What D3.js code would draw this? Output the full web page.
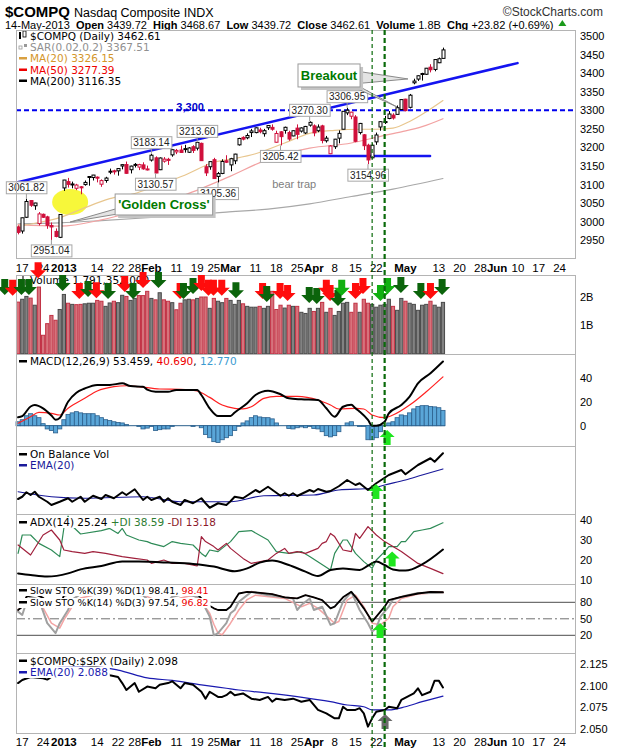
<!DOCTYPE html>
<html>
<head>
<meta charset="utf-8">
<script src="https://cdn.jsdelivr.net/npm/d3@7/dist/d3.min.js"></script>
<style>
html,body{margin:0;padding:0;background:#fff;}
svg{display:block;}
</style>
</head>
<body>
<svg id="chart" width="620" height="750"></svg>
<script>
// ================= DATA (bar index 0 = 14-Dec-2012 ... 102 = 14-May-2013) =================
const openP = [2986,2975,3012,3057,3043,2995,3020,3013,2990,2974,
 2958,3091,3108,3100,3090,3094,3100,3120,3119,3120,
 3101,3111,3134,3137,3137,3150,3154,3140,3152,3147,
 3153,3141,3166,3172,3140,3163,3168,3180,3188,3193,
 3195,3187,3202,3198,3211,3148,3148,3167,3122,3130,
 3164,3153,3164,3207,3227,3226,3240,3240,3247,3237,
 3253,3254,3214,3242,3246,3240,3231,3252,3244,3239,
 3260,3258,3245,3258,3218,3183,3202,3225,3249,3293,
 3284,3282,3240,3234,3206,3172,3215,3255,3269,3278,
 3287,3289,3302,3330,3308,3374,3384,3399,3397,3416,
 3410,3428,3439.72];
const highP = [2990,3011,3061.82,3058,3051,3026,3022,3016,2998,2982,
 3020,3112.65,3118,3108,3102,3096,3111,3123,3126,3122,
 3114,3121,3143,3140,3143.5,3154,3162,3151,3158,3156,
 3160,3151,3183.14,3176,3173,3174,3172,3195,3196,3205,
 3207,3201,3206,3213.60,3213,3155,3162,3172,3134,3168,
 3179,3172,3183,3226,3230,3238,3250,3254,3253,3250,
 3259,3262,3245,3244,3256,3245,3246,3262,3254,3258,
 3270.30,3262,3262,3261,3231,3206,3223,3246,3298,3306.95,
 3296,3287,3266,3236,3210,3211,3240,3271,3285,3298,
 3292,3313,3329,3331,3344,3385,3394,3401,3414,3424,
 3437,3442,3468.67];
const lowP = [2966,2968,3010,3040,3032,2990,3010,2981,2951.04,2958,
 2956,3083,3092,3090,3085,3074,3097,3097,3111,3106,
 3094,3105,3128,3127,3124,3141,3129,3130,3146,3139,
 3140,3138,3162,3130.57,3139,3159,3153,3175,3182,3185,
 3186,3185,3185,3192,3164,3123,3140,3116,3105.36,3128,
 3158,3136,3155,3205,3219,3222,3228,3238,3238,3229,
 3247,3245,3213,3205.42,3237,3218,3230,3222,3240,3236,
 3256,3230,3241,3211,3213,3182,3196,3211,3249,3287,
 3276,3214,3235,3193,3154.96,3170,3207,3245,3263,3276,
 3275,3289,3302,3297,3305,3370,3379,3380,3395,3402,
 3405,3427,3439.72];
const closeP = [2971.33,3010.60,3054.53,3044.36,3050.39,3021.01,3012.03,2990.16,2985.91,2960.31,
 3019.51,3112.26,3100.57,3101.66,3098.81,3091.81,3105.81,3121.76,3125.63,3117.50,
 3110.78,3117.54,3136.00,3134.71,3143.18,3153.67,3130.38,3149.71,3154.30,3153.66,
 3142.31,3142.13,3179.10,3131.17,3171.58,3168.48,3165.13,3193.87,3192.00,3186.49,
 3196.88,3198.66,3192.03,3213.59,3164.41,3131.49,3161.82,3116.25,3129.65,3162.26,
 3160.19,3169.74,3182.03,3224.13,3222.37,3232.09,3244.37,3252.87,3242.32,3245.12,
 3258.93,3249.07,3237.59,3229.10,3254.19,3222.60,3245.00,3235.30,3252.48,3256.52,
 3267.52,3239.17,3254.86,3218.60,3224.98,3203.86,3222.25,3237.86,3297.25,3300.16,
 3294.95,3216.49,3264.63,3204.67,3166.36,3206.06,3233.55,3269.33,3269.65,3289.99,
 3279.26,3307.02,3328.79,3299.13,3340.62,3378.63,3392.97,3396.63,3413.27,3409.17,
 3436.58,3438.79,3462.61];
const volumeB = [1.82,1.92,2.02,1.96,1.71,2.35,0.65,1.06,1.35,1.18,
 1.56,2.09,1.78,1.74,1.73,1.74,1.76,1.78,1.78,1.88,
 1.85,1.67,1.79,1.85,1.80,2.06,2.02,1.88,1.95,2.05,
 2.05,2.20,1.95,1.90,2.15,1.90,1.85,1.80,1.55,1.78,
 1.90,1.92,1.90,1.95,2.00,2.00,1.60,1.95,1.85,1.80,
 1.95,1.88,1.74,1.88,1.76,1.67,1.64,1.64,1.67,1.60,
 1.67,2.20,1.56,1.71,1.61,1.71,1.67,1.67,1.46,1.42,
 1.60,1.49,1.60,1.81,1.46,1.60,1.35,1.49,1.78,1.81,
 1.46,1.78,1.46,1.92,1.78,1.74,1.64,1.71,1.74,1.92,
 1.67,1.53,1.95,1.85,1.78,1.74,1.53,1.71,1.74,1.85,
 1.71,1.64,1.81];
// moving averages [bar, value]
const ma20 = [[0,2988],[5,2998],[10,3011],[15,3033],[22,3062],[28,3076],[33,3096],[40,3125],[47,3160],[52,3170],[57,3183],[64,3212],[70,3238],[76,3246],[82,3249],[86,3249],[90,3252],[94,3270],[98,3296],[102,3326.15]];
const ma50 = [[0,2992],[10,2988],[20,3005],[30,3035],[40,3072],[50,3118],[60,3168],[70,3198],[80,3212],[87,3230],[92,3242],[97,3256],[102,3277.39]];
const ma200 = [[0,2994],[10,2997],[20,3003],[30,3010],[40,3018],[50,3026],[60,3034],[70,3048],[80,3068],[90,3088],[102,3116.35]];
// MACD
const macdLine = [[0,7],[1,8],[3,16],[4,17.3],[6,14.5],[8,8.5],[9,5],[10,6.5],[12,20],[14,27.5],[16,31],[19,34],[22,34],[25,35.3],[27,33],[30,32.5],[31,30],[33,28.3],[36,28.3],[38,29.8],[43,29.8],[44,25.6],[46,14.5],[48,8.1],[51,8.1],[52,11],[55,18.7],[57,25.6],[60,29.2],[63,26.2],[65,22.8],[68,22],[72,21.4],[74,14.5],[76,7.5],[78,15.8],[80,17.5],[81,14.5],[82,11.7],[84,4.8],[85,0],[86,0],[88,3.3],[89,10.3],[92,17.2],[94,24.2],[96,35.3],[99,43.7],[102,53.459]];
const macdSignal = [[0,2],[3,7.5],[5,11.1],[8,10.3],[10,8.9],[12,14.5],[16,22.8],[19,28.9],[23,32.5],[26,33.3],[29,32.5],[34,30.6],[39,30.3],[43,28.9],[46,23.6],[49,17.2],[52,14.5],[54,14],[56,15.8],[59,22.8],[62,24.5],[67,24.5],[72,21.4],[75,17.2],[77,13.9],[81,14.5],[83,13.9],[85,8.9],[88,6.7],[90,8.9],[94,17.2],[98,28.3],[102,40.69]];
const macdHist = [3.3,5,8.3,10,8.3,6.7,1.7,-2.7,-4,-6,
 -2.7,5,9.3,10.7,11.7,10.7,10,10,10,8.3,
 6.7,5,4.3,3.3,2.7,2.3,1,0,0,-0.7,
 -2.7,-2,-0.7,-4,-3.3,-2.7,-2.7,-0.7,0,0,
 0,0,-0.7,0,-1.7,-7.3,-10,-13.3,-14,-11.7,
 -10,-8.3,-4,-0.5,2.3,4,6.7,8.3,7.3,6.7,
 6.7,5.7,2.3,0,0,-2.3,-2.7,-1.7,-1,-1.7,
 -0.7,-2.3,-2.7,-5,-8.3,-9.3,-8.3,-5,0,2.3,
 3.3,0,-0.7,-0.7,-11.7,-11.7,-10,-5,0,2.3,
 3.3,6.7,9,8.3,10.7,14,16,16.7,16.7,16,
 15.7,15,12.77];
// On Balance Volume (relative units)
const obvLine = [[0,4.8],[1,6.6],[2,10.2],[3,8],[4,10.6],[5,6.6],[7,2.6],[8,0],[10,2.6],[12,5.4],[13,2.6],[15,6.6],[16,2.6],[18,7.4],[20,4.8],[21,8],[23,5.4],[25,10.2],[26,8],[28,12.6],[30,4],[31,6.6],[32,4],[34,6.6],[35,2.6],[36,5.4],[37,2.6],[39,0],[40,4],[42,1.4],[44,5.4],[45,1.4],[46,-2.2],[48,1.4],[50,0],[51,3],[52,6.6],[54,5.4],[57,12],[58,10.2],[60,14.6],[63,7.4],[64,9.4],[65,7.4],[66,9.4],[67,7.2],[70,12],[71,10.6],[72,12.8],[74,10.6],[75,11.2],[77,15],[79,20],[81,16],[82,17.4],[84,12],[86,17.4],[89,24],[92,28],[93,24.6],[96,32],[99,37.4],[100,34.6],[102,41.4]];
const obvEma = [[0,10.6],[8,6.6],[16,5.4],[30,6.6],[39,2.6],[51,2.6],[59,7.4],[71,8],[77,12],[85,13.4],[88,16],[93,20],[97,24],[102,28.8]];
// ADX(14)
const adxLine = [[0,13.3],[3,12.5],[7,11.7],[12,13.3],[15,15.3],[20,17],[25,19.2],[29,19.2],[36,18.7],[42,18],[47,16.7],[52,14.4],[55,15.8],[58,18.7],[61,19.7],[65,17.5],[69,14.2],[72,12],[75,15],[78,15.8],[82,15],[84,17.2],[86,19.2],[88,17.5],[90,15.3],[93,14.7],[97,17.8],[102,25.24]];
const plusDI = [[0,23.3],[1,32.5],[3,32.5],[5,28.3],[8,25],[10,21.7],[11,36],[12,42],[13,37],[15,33],[20,34.7],[22,35.8],[24,33.3],[25,35.8],[26,32.5],[29,30],[31,29.2],[32,28.3],[35,26.7],[37,29.2],[39,28.3],[42,27.5],[44,23.3],[45,21.7],[46,25],[48,24.2],[51,29.2],[53,34.2],[56,34.7],[60,30],[62,24.2],[65,23.3],[68,24.2],[70,21.7],[75,15],[76,23.3],[78,30],[79,30],[81,23.3],[83,19.2],[85,15.8],[86,20],[88,24.2],[89,26.7],[91,26.7],[92,29.2],[93,29.2],[95,34.2],[97,35],[99,35.8],[102,38.59]];
const minusDI = [[0,27.5],[3,22.5],[6,32.5],[8,35],[10,30],[11,25],[13,24.2],[16,23.3],[18,24.2],[21,23.3],[25,21.7],[28,20.8],[31,20],[32,18.3],[35,20],[37,18.3],[40,18.3],[43,17],[44,31.7],[45,29.2],[47,26.7],[48,25],[50,28.3],[51,25.8],[54,20.8],[56,18.3],[60,20],[62,23.3],[64,25.8],[65,23.3],[67,24.2],[69,23.3],[72,25.8],[73,28.3],[74,29.2],[75,33.3],[76,31.7],[78,25],[80,24.2],[81,33.3],[82,30.8],[84,36.7],[86,32.5],[88,29.2],[90,26.7],[92,24.2],[96,18.3],[99,15.8],[102,13.18]];
// Slow stochastics
const sto39K = [[0,66],[1,72],[2,90],[4,95],[6,88],[8,75],[9,71],[10,73],[11,92],[14,96],[20,97],[30,96],[38,98],[43,95],[44,87],[45,78],[47,69],[48,66],[50,66],[51,72],[52,84],[53,96],[55,99],[57,98],[61,95],[64,89],[67,87],[69,93],[71,89],[73,84],[75,69],[76,72],[78,89],[80,99],[81,90],[83,69],[85,45],[86,54],[88,72],[89,84],[92,90],[96,96],[99,99],[102,98.41]];
const sto14K = [[0,63],[1,57],[2,80],[3,90],[5,85],[7,42],[9,24],[10,42],[12,66],[13,85],[15,95],[20,97],[25,95],[30,93],[33,72],[35,74],[37,90],[40,95],[43,90],[44,84],[46,54],[47,20],[48,24],[50,42],[51,60],[52,66],[53,81],[56,99],[60,93],[64,89],[66,87],[67,66],[68,75],[70,87],[71,66],[73,72],[75,39],[76,42],[78,81],[80,99],[82,66],[84,42],[85,27],[86,33],[87,54],[89,72],[90,85],[93,92],[96,97],[100,97],[102,97.54]];
const sto14D = [[0,70],[2,72],[4,85],[6,70],[8,42],[10,33],[11,48],[13,72],[15,88],[20,96],[25,95],[30,94],[34,80],[36,76],[39,88],[42,93],[44,81],[46,60],[47,40],[48,24],[49,21],[51,42],[53,66],[55,85],[57,93],[64,87],[68,72],[70,78],[72,69],[76,42],[77,45],[79,84],[81,93],[83,72],[85,42],[87,39],[89,51],[90,72],[92,87],[96,95],[100,97],[102,96.82]];
// $COMPQ:$SPX ratio
const ratioLine = [[0,2.103],[1,2.1065],[3,2.11],[6,2.1085],[7,2.107],[8,2.110],[12,2.115],[16,2.12],[18,2.122],[20,2.12],[21,2.118],[22,2.112],[24,2.110],[25,2.103],[26,2.095],[28,2.103],[29,2.093],[31,2.099],[33,2.097],[34,2.101],[36,2.103],[37,2.105],[39,2.097],[40,2.103],[42,2.101],[44,2.093],[45,2.085],[46,2.093],[48,2.087],[49,2.087],[50,2.089],[51,2.093],[52,2.089],[54,2.091],[56,2.085],[58,2.0835],[60,2.087],[61,2.0815],[62,2.085],[64,2.0835],[66,2.085],[68,2.0815],[70,2.0835],[72,2.072],[74,2.068],[76,2.0623],[77,2.0623],[78,2.0757],[79,2.072],[81,2.072],[82,2.074],[83,2.068],[84,2.0527],[85,2.0623],[86,2.07],[88,2.072],[89,2.0757],[91,2.074],[92,2.0835],[95,2.091],[96,2.097],[97,2.089],[99,2.093],[100,2.1058],[101,2.1058],[102,2.098]];
const ratioEma = [[0,2.118],[10,2.121],[18,2.122],[24,2.118],[31,2.109],[37,2.106],[44,2.101],[50,2.097],[53,2.095],[59,2.092],[67,2.0873],[75,2.0815],[79,2.0777],[83,2.0757],[85,2.072],[89,2.072],[93,2.0757],[97,2.0815],[102,2.088]];
// axis ticks
const priceTicks = [2950,3000,3050,3100,3150,3200,3250,3300,3350,3400,3450,3500];
const volTicks = [1,2];
const macdTicks = [0,20,40];
const adxTicks = [10,20,30,40];
const stoTicks = [20,50,80];
const ratioTicks = [2.050,2.075,2.100,2.125];
const xTickIdx = [1,6,11,19,24,28,32,38,43,47,51,57,62,67,71,76,81,86,93,101,106,111,115,120,125,130];
const xTickLabels = ["17","24","2013","14","22","28","Feb","11","19","25","Mar","11","18","25","Apr","8","15","22","May","13","20","28","Jun","10","17","24"];
// annotations
const priceLabels = [[2,3061.82,"above"],[8,2951.04,"below"],[32,3183.14,"above"],[33,3130.57,"below"],[43,3213.60,"above"],[48,3105.36,"below"],[70,3270.30,"above"],[63,3205.42,"below"],[79,3306.95,"above"],[84,3154.96,"below"]];
const resistanceLevel = 3300;
const trendLine = [[-0.34,3105.6],[119.9,3427]];
const supportLine = [[66.7,3177],[98.9,3177]];
const markerDays = [85,88];
// volume-panel arrows: [bar, tip level (B), kind]
const volArrows = [[-3.2,2.07,"dg"],[-1.3,2.04,"r"],[0.8,2.07,"dg"],[2.6,2.07,"dg"],[4.8,2.66,"r"],[10.7,2.21,"dg"],[14.7,1.93,"r"],[16.8,2.0,"dg"],[18.8,1.96,"r"],[21.6,1.93,"dg"],[25.6,2.18,"r"],[27.6,1.93,"dg"],[30,2.32,"r"],[33.7,2.32,"dg"],[38.9,1.93,"r"],[39.7,1.93,"dg"],[42,2.11,"dg"],[44,2.21,"r"],[45.7,2.04,"r"],[46.9,2.04,"r"],[48.9,2.04,"r"],[52.3,1.96,"dg"],[58.7,1.93,"r"],[59.7,1.82,"dg"],[62.9,1.93,"r"],[64.7,1.86,"r"],[69.9,1.79,"dg"],[71.7,1.75,"dg"],[74,2.04,"r"],[74.9,1.86,"r"],[76.8,1.68,"dg"],[77.7,2.04,"g"],[81,1.93,"r"],[82.8,2.11,"r"],[87,1.86,"g"],[88.7,2.11,"g"],[91.9,2.14,"dg"],[96.7,1.93,"dg"],[99,1.93,"r"],[101.8,2.07,"dg"]];
// signal arrows in indicator panels: [panel, bar, tip value, kind]
const upArrows = [["macd",88.6,-3.6,"g"],["obv",85.9,16.8,"g"],["adx",89.8,24.2,"g"],["sto",86.9,42.4,"g"],["ratio",88.1,2.0673,"gray"]];

// ================= DRAWING =================
const svg = d3.select("#chart");
const SANS = "'Liberation Sans', Arial, sans-serif";
const DV = "'DejaVu Sans', Verdana, sans-serif";
const X0 = 16, X1 = 575;
const panels = {
  price:{top:30,bottom:258}, vol:{top:275,bottom:354}, macd:{top:354,bottom:446},
  obv:{top:446,bottom:514}, adx:{top:514,bottom:584}, sto:{top:584,bottom:653}, ratio:{top:653,bottom:733}
};
const xS = d3.scaleLinear().domain([-0.5,133.7]).range([X0,X1]);
const yP = d3.scaleLinear().domain([2950,3500]).range([240.3,36]);
const yV = d3.scaleLinear().domain([0,2]).range([353.7,297]);
const yM = d3.scaleLinear().domain([0,40]).range([425.7,377.7]);
const yO = d3.scaleLinear().domain([0,40]).range([505,455]);
const yA = d3.scaleLinear().domain([10,40]).range([580,520]);
const yS = d3.scaleLinear().domain([20,80]).range([635.3,602.3]);
const yR = d3.scaleLinear().domain([2.05,2.125]).range([729,664]);
const yScales = {macd:yM, obv:yO, adx:yA, sto:yS, ratio:yR};

svg.append("rect").attr("width",620).attr("height",750).attr("fill","#fff");

function drawLine(data, ys, color, w, curve){
  return svg.append("path").datum(data).attr("fill","none").attr("stroke",color)
    .attr("stroke-width",w).attr("stroke-linejoin","round").attr("stroke-linecap","round")
    .attr("d", d3.line().x(d=>xS(d[0])).y(d=>ys(d[1])).curve(curve||d3.curveLinear));
}
function isUp(i){ return i===0 ? closeP[i]>=openP[i] : closeP[i]>=closeP[i-1]; }

// ---------- header ----------
const t1 = svg.append("text").attr("x",5).attr("y",17).attr("font-family",SANS).attr("font-size",15)
  .attr("font-weight","bold").text("$COMPQ");
const w1 = t1.node().getComputedTextLength();
svg.append("text").attr("x",5+w1+4).attr("y",17).attr("font-family",SANS).attr("font-size",12.5).text("Nasdaq Composite INDX");
svg.append("text").attr("x",603).attr("y",16).attr("text-anchor","end").attr("font-family",SANS).attr("font-size",12).attr("fill","#333").text("\u00A9StockCharts.com");
const hdr = svg.append("text").attr("x",5).attr("y",29).attr("font-family",SANS).attr("font-size",11).style("white-space","pre");
[["14-May-2013  ",0],["Open",1],[" 3439.72  ",0],["High",1],[" 3468.67  ",0],["Low",1],[" 3439.72  ",0],["Close",1],[" 3462.61  ",0],["Volume",1],[" 1.8B  ",0],["Chg",1],[" +23.82 (+0.69%)",0]]
  .forEach(([s,b])=>hdr.append("tspan").attr("font-weight",b?"bold":"normal").text(s));
const hb = hdr.node().getBBox();
const tx = hb.x+hb.width+5;
svg.append("path").attr("d",`M${tx},26 l4,-6 l4,6 z`).attr("fill","#1a9a1a");

// ---------- panel backgrounds ----------
Object.values(panels).forEach(p=>{
  svg.append("rect").attr("x",X0+0.5).attr("y",p.top+0.5).attr("width",X1-X0).attr("height",p.bottom-p.top).attr("fill","#fff");
});

// ---------- price panel ----------
svg.append("ellipse").attr("cx",xS(12.5)).attr("cy",yP(3053)).attr("rx",18).attr("ry",13).attr("fill","#f7f73a");
drawLine(ma200, yP, "#a8a8a8", 1.2, d3.curveMonotoneX);
drawLine(ma50, yP, "#f2a2a2", 1.2, d3.curveMonotoneX);
drawLine(ma20, yP, "#e8c68e", 1.2, d3.curveMonotoneX);
svg.append("line").attr("x1",X0).attr("x2",X1).attr("y1",yP(resistanceLevel)).attr("y2",yP(resistanceLevel))
  .attr("stroke","#0000ee").attr("stroke-width",2).attr("stroke-dasharray","5,3");
drawLine(trendLine, yP, "#1414f0", 2.5);
drawLine(supportLine, yP, "#1414f0", 2.5);
const cg = svg.append("g");
closeP.forEach((c,i)=>{
  const o=openP[i], h=highP[i], l=lowP[i];
  const col = isUp(i) ? "#000" : "#d0103c";
  const xc = Math.round(xS(i))+0.5;
  cg.append("line").attr("x1",xc).attr("x2",xc).attr("y1",yP(h)).attr("y2",yP(l)).attr("stroke",col).attr("stroke-width",1);
  const yt = yP(Math.max(o,c)), yb = yP(Math.min(o,c));
  cg.append("rect").attr("x",xc-1.5).attr("y",yt).attr("width",3).attr("height",Math.max(1,yb-yt))
    .attr("fill", c>o ? "#fff" : col).attr("stroke",col).attr("stroke-width",1);
});
priceLabels.forEach(([i,p,pos])=>{
  const px = xS(i), py = yP(p);
  const cy = pos==="above" ? py-11 : py+11;
  svg.append("line").attr("x1",px).attr("x2",px).attr("y1",py).attr("y2",cy).attr("stroke","#9a9a9a").attr("stroke-width",1);
  const t = svg.append("text").attr("x",px).attr("y",cy+3.5).attr("text-anchor","middle").attr("font-family",SANS)
    .attr("font-size",10).attr("fill","#222").text(p.toFixed(2));
  const bb = t.node().getBBox();
  svg.insert("rect", function(){return t.node();}).attr("x",bb.x-2).attr("y",cy-6).attr("width",bb.width+4).attr("height",12)
    .attr("fill","#fff").attr("stroke","#a8a8a8").attr("stroke-width",1);
});
function callout(box, tails, text){
  const x0=xS(box[0]), x1=xS(box[1]), y0=yP(box[2]), y1=yP(box[3]);
  tails.forEach(t=>svg.append("path").attr("d","M"+t.map(p=>xS(p[0])+","+yP(p[1])).join("L")+"Z")
    .attr("fill","#e4e4e4").attr("stroke","#8a8a8a").attr("stroke-width",1));
  svg.append("rect").attr("x",x0+3).attr("y",y0+3).attr("width",x1-x0).attr("height",y1-y0).attr("fill","#c4c4c4");
  svg.append("rect").attr("x",x0).attr("y",y0).attr("width",x1-x0).attr("height",y1-y0).attr("fill","#fff").attr("stroke","#9a9a9a");
  svg.append("text").attr("x",(x0+x1)/2).attr("y",(y0+y1)/2+4.5).attr("text-anchor","middle").attr("font-family",SANS)
    .attr("font-size",13).attr("font-weight","bold").attr("fill","#007a00").text(text);
}
callout([67.2,82.1,3424.7,3362.8], [[[81.5,3405],[81.5,3372],[93.6,3384.4]], [[79.9,3366],[81.6,3366],[90.97,3309]]], "Breakout");
callout([23.3,46.7,3074.7,3018.2], [[[24.5,3038],[24.5,3022],[12.5,2999.3]]], "'Golden Cross'");
svg.append("text").attr("x",xS(41.3)).attr("y",yP(3300)+1).attr("text-anchor","middle").attr("font-family",SANS)
  .attr("font-size",11).attr("font-weight","bold").attr("fill","#0000cc").text("3,300");
svg.append("text").attr("x",xS(61)).attr("y",yP(3090.8)).attr("font-family",SANS).attr("font-size",11).attr("fill","#808080").text("bear trap");

// ---------- legend helper ----------
function legend(y, icon, parts, bg, fs){
  const g = svg.append("g");
  const t = g.append("text").attr("x",30).attr("y",y).attr("font-family",DV).attr("font-size",fs||10.5).style("white-space","pre");
  parts.forEach(([s,c])=>t.append("tspan").attr("fill",c).text(s));
  if(bg){
    const bb = t.node().getBBox();
    g.insert("rect","text").attr("x",X0+1).attr("y",bb.y+1).attr("width",bb.x+bb.width-X0+1).attr("height",bb.height-1).attr("fill","#fff");
  }
  if(icon==="candle"){
    g.append("rect").attr("x",19).attr("y",y-8).attr("width",2).attr("height",7).attr("fill","#000");
    g.append("rect").attr("x",23).attr("y",y-9).attr("width",3).attr("height",6).attr("fill","#fff").attr("stroke","#000").attr("stroke-width",0.8);
  } else if(icon==="sar"){
    g.append("rect").attr("x",19).attr("y",y-5).attr("width",3).attr("height",3).attr("fill","none").attr("stroke","#999").attr("stroke-width",0.8);
    g.append("rect").attr("x",24).attr("y",y-7).attr("width",3).attr("height",3).attr("fill","#999");
  } else if(icon==="vol"){
    [[19,6],[22,9],[25,5]].forEach(([xx,hh])=>g.append("rect").attr("x",xx).attr("y",y-hh+1).attr("width",2).attr("height",hh).attr("fill","#777"));
  } else if(icon){
    g.append("rect").attr("x",19).attr("y",y-5).attr("width",8).attr("height",2.5).attr("fill",icon);
  }
  return g;
}
legend(40,"candle",[["$COMPQ (Daily) 3462.61","#000"]]);
legend(51,"sar",[["SAR(0.02,0.2) 3367.51","#909090"]]);
legend(62,"#d9a040",[["MA(20) 3326.15","#d4962a"]]);
legend(73.5,"#ee0000",[["MA(50) 3277.39","#ee0000"]]);
legend(84.5,"#000",[["MA(200) 3116.35","#000"]]);

// ---------- volume panel ----------
volumeB.forEach((v,i)=>{
  const up = isUp(i);
  svg.append("rect").attr("x",xS(i)-1.6).attr("y",yV(v)).attr("width",3.2).attr("height",yV(0)-yV(v))
    .attr("fill", up ? "#828282" : "#d6737c").attr("stroke", up ? "#4a4a4a" : "#c23245").attr("stroke-width",1);
});
legend(284,"vol",[["Volume 1,791,352,000","#000"]]);

// ---------- MACD ----------
svg.append("line").attr("x1",xS(-0.5)).attr("x2",xS(102.5)).attr("y1",yM(0)).attr("y2",yM(0)).attr("stroke","#2b5f8c").attr("stroke-width",1);
macdHist.forEach((v,i)=>{
  if(v===0) return;
  const y0 = yM(Math.max(v,0)), y1 = yM(Math.min(v,0));
  svg.append("rect").attr("x",xS(i)-2.08).attr("y",y0).attr("width",4.16).attr("height",y1-y0)
    .attr("fill","#5aa6d8").attr("stroke","#2b5f8c").attr("stroke-width",0.8);
});
drawLine(macdSignal, yM, "#ff2020", 1.2, d3.curveMonotoneX);
drawLine(macdLine, yM, "#000", 2, d3.curveMonotoneX);
legend(365,"#000",[["MACD(12,26,9) 53.459","#000"],[", ","#000"],["40.690","#ee0000"],[", ","#000"],["12.770","#3a9ad0"]]);

// ---------- OBV ----------
drawLine(obvEma, yO, "#1a1a9a", 1.2, d3.curveMonotoneX);
drawLine(obvLine, yO, "#000", 2);
legend(458,"#000",[["On Balance Vol","#000"]]);
legend(469,"#1a1a9a",[["EMA(20)","#1a1a9a"]]);

// ---------- ADX ----------
drawLine(plusDI, yA, "#2e8b57", 1.2);
drawLine(minusDI, yA, "#a0203c", 1.2);
drawLine(adxLine, yA, "#000", 2, d3.curveMonotoneX);
legend(526,"#000",[["ADX(14) 25.24 ","#000"],["+DI 38.59 ","#2e7d32"],["-DI 13.18","#8b1a2a"]], true);

// ---------- STO ----------
[80,20].forEach(v=>svg.append("line").attr("x1",X0).attr("x2",X1).attr("y1",yS(v)).attr("y2",yS(v)).attr("stroke","#707070").attr("stroke-width",1.2));
svg.append("line").attr("x1",X0).attr("x2",X1).attr("y1",yS(50)).attr("y2",yS(50)).attr("stroke","#707070").attr("stroke-width",1).attr("stroke-dasharray","9,3,2,3");
drawLine(sto14D, yS, "#f4a4a4", 1.5);
drawLine(sto14K, yS, "#a0a0a0", 2);
drawLine(sto39K, yS, "#ee2020", 1);
drawLine(sto39K, yS, "#000", 1.8);
legend(594,"#000",[["Slow STO %K(39) %D(1) 98.41, ","#000"],["98.41","#ee0000"]], true, 9.5);
legend(606,"#000",[["Slow STO %K(14) %D(3) 97.54, ","#000"],["96.82","#ee0000"]], true, 9.5);

// ---------- Ratio ----------
drawLine(ratioEma, yR, "#1a1ab0", 1.2, d3.curveMonotoneX);
drawLine(ratioLine, yR, "#000", 2);
legend(664.5,"#000",[["$COMPQ:$SPX (Daily) 2.098","#000"]], true);
legend(676,"#1a1ab0",[["EMA(20) 2.088","#1a1ab0"]], true);

// ---------- right axes ----------
function rightAxis(scale, ticks, fmt){
  const g = svg.append("g").attr("transform",`translate(${X1},0)`)
    .call(d3.axisRight(scale).tickValues(ticks).tickSize(0).tickPadding(5).tickFormat(fmt));
  g.select(".domain").remove();
  g.attr("font-family",SANS).attr("font-size",11);
  g.selectAll("text").attr("fill","#000");
}
rightAxis(yP, priceTicks, d3.format("d"));
rightAxis(yV, volTicks, d=>d+"B");
rightAxis(yM, macdTicks, d3.format("d"));
rightAxis(yA, adxTicks, d3.format("d"));
rightAxis(yS, stoTicks, d3.format("d"));
rightAxis(yR, ratioTicks, d3.format(".3f"));

// ---------- x labels ----------
[271.5, 745.5].forEach(yy=>{
  xTickIdx.forEach((d,k)=>{
    const lbl = xTickLabels[k];
    const bold = !/^\d{1,2}$/.test(lbl);
    svg.append("text").attr("x",xS(d)).attr("y",yy).attr("text-anchor","middle").attr("font-family",SANS)
      .attr("font-size",11.5).attr("font-weight",bold?"bold":"normal").text(lbl);
  });
});

// ---------- panel frames ----------
Object.values(panels).forEach(p=>{
  svg.append("rect").attr("x",X0+0.5).attr("y",p.top+0.5).attr("width",X1-X0).attr("height",p.bottom-p.top)
    .attr("fill","none").attr("stroke","#b4b4b4").attr("stroke-width",1);
});

// ---------- arrows ----------
const arrowCol = {dg:"#0b640b", g:"#10b010", r:"#ff0c0c"};
volArrows.forEach(([i,v,k])=>{
  const cx = xS(i), ty = yV(v);
  svg.append("path").attr("d",`M${cx-3.5},${ty-16}h7v8h4.5l-8,8l-8,-8h4.5z`).attr("fill",arrowCol[k]);
});
upArrows.forEach(([pn,i,v,k])=>{
  const cx = xS(i), ty = yScales[pn](v);
  svg.append("path").attr("d",`M${cx-3.5},${ty+15}h7v-8h4l-7.5,-7l-7.5,7h4z`).attr("fill", k==="g" ? "#1ee61e" : "#6a6a6a");
});

// ---------- marker day vertical lines ----------
markerDays.forEach((d,k)=>{
  svg.append("line").attr("x1",xS(d)).attr("x2",xS(d)).attr("y1",panels.price.top).attr("y2",750)
    .attr("stroke","#0a6a0a").attr("stroke-width",k?2.2:1.2).attr("stroke-dasharray",k?"5,3":"4,3");
});
</script>
</body>
</html>
